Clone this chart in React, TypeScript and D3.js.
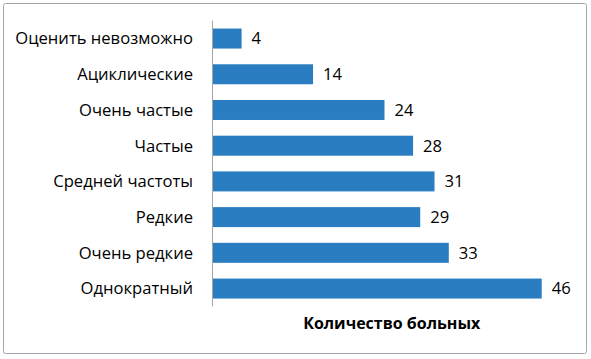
import React from "react";
import * as d3 from "d3";

const categories = [
  "Оценить невозможно",
  "Ациклические",
  "Очень частые",
  "Частые",
  "Средней частоты",
  "Редкие",
  "Очень редкие",
  "Однократный",
];
const values = [4, 14, 24, 28, 31, 29, 33, 46];
const axisTitle = "Количество больных";

const W = 591;
const H = 359;

export default function App() {
  const x = d3.scaleLinear().domain([0, 46]).range([213, 541.7]);
  const y = d3
    .scaleBand<string>()
    .domain(categories)
    .range([20.7, 306.4])
    .paddingInner(0.44)
    .paddingOuter(0.22);
  const font = "'Open Sans', 'Noto Sans', sans-serif";
  return (
    <svg
      width={W}
      height={H}
      style={{ position: "absolute", left: 0, top: 0 }}
      fontFamily={font}
    >
      <rect x={3.5} y={3.5} width={583} height={350} rx={2} fill="#fff" stroke="#A6A6A6" strokeWidth={1} />
      {categories.map((c, i) => (
        <g key={c}>
          <rect
            x={x(0)}
            y={y(c)!}
            width={x(values[i]) - x(0)}
            height={y.bandwidth()}
            fill="#2A7DC1"
          />
          <text
            x={193}
            y={y(c)! + y.bandwidth() / 2}
            dy="0.35em"
            textAnchor="end"
            fontSize={16.6}
            fill="#000"
          >
            {c}
          </text>
          <text
            x={x(values[i]) + 10}
            y={y(c)! + y.bandwidth() / 2}
            dy="0.35em"
            textAnchor="start"
            fontSize={16.6}
            fill="#000"
          >
            {values[i]}
          </text>
        </g>
      ))}
      <line x1={212.5} x2={212.5} y1={20.7} y2={306.4} stroke="#A6A6A6" strokeWidth={1} />
      <text x={391.7} y={329} textAnchor="middle" fontSize={16} fontWeight="bold" fill="#000">
        {axisTitle}
      </text>
    </svg>
  );
}
